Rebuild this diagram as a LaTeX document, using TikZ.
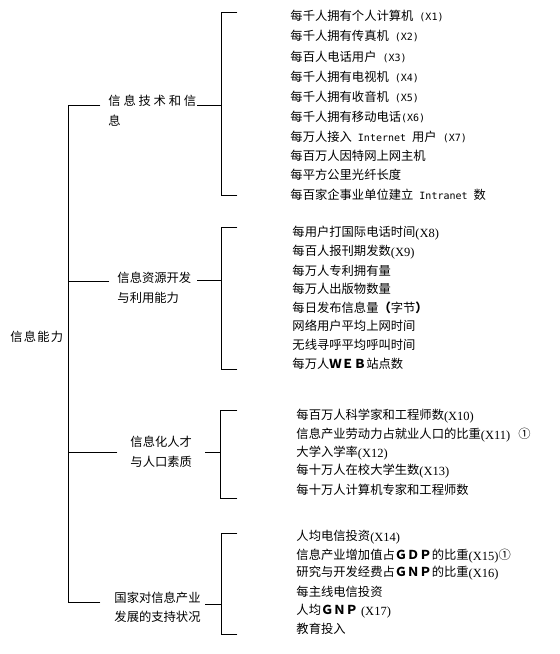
\documentclass[tikz,border=0pt]{standalone}
\usepackage{fontspec}
\setmainfont{Noto Sans CJK SC}
\newfontfamily\monox{DejaVu Sans Mono}
\newfontfamily\serifx{Liberation Serif}
\newcommand{\mx}[1]{{\monox\fontsize{10}{12}\selectfont #1}}
\newcommand{\sx}[1]{\raisebox{-1pt}{\serifx\fontsize{12.5}{14}\selectfont #1}}
\newcommand{\fw}[1]{{\bfseries #1}}
\begin{document}
\begin{tikzpicture}[x=1pt,y=-1pt,line width=0.9pt,
  item/.style={anchor=west,inner sep=0pt,font=\fontsize{12.3}{14}\selectfont},
  branch/.style={anchor=west,inner sep=0pt,align=left,font=\fontsize{12.3}{19.5}\selectfont},
  link/.style={draw=black,line cap=rect}]
\useasboundingbox (0,0) rectangle (560,654);

% labels
\node[branch] (root) at (10,337) {信\hspace{1.2pt}息\hspace{1.2pt}能\hspace{1.2pt}力};
\node[branch] (b1) at (108,110.5) {信\hspace{2.8pt}息\hspace{2.8pt}技\hspace{2.8pt}术\hspace{2.8pt}和\hspace{2.8pt}信\\息};
\node[branch] (b2) at (117,288) {信息资源开发\\与利用能力};
\node[branch] (b3) at (130,452) {信息化人才\\与人口素质};
\node[branch] (b4) at (114,607.5) {国家对信息产业\\发展的支持状况};

% coordinates
\coordinate (m1) at (68,105);
\coordinate (m2) at (68,281);
\coordinate (m3) at (68,452);
\coordinate (m4) at (68,602);
\coordinate (b1l) at (100,105);
\coordinate (b2l) at (109,281);
\coordinate (b3l) at (117,452);
\coordinate (b4l) at (100,602);
\coordinate (b1r) at (197,105);
\coordinate (b2r) at (197,280);
\coordinate (b3r) at (205,452);
\coordinate (b4r) at (205,604);
\coordinate (k1) at (221,105);
\coordinate (k2) at (221,280);
\coordinate (k3) at (220,452);
\coordinate (k4) at (221,604);
\coordinate (k1t) at (221,12);   \coordinate (k1te) at (237,12);
\coordinate (k1b) at (221,195);  \coordinate (k1be) at (237,195);
\coordinate (k2t) at (221,227);  \coordinate (k2te) at (237,227);
\coordinate (k2b) at (221,369);  \coordinate (k2be) at (237,369);
\coordinate (k3t) at (220,410);  \coordinate (k3te) at (237,410);
\coordinate (k3b) at (220,498);  \coordinate (k3be) at (237,498);
\coordinate (k4t) at (221,533);  \coordinate (k4te) at (237,533);
\coordinate (k4b) at (221,634);  \coordinate (k4be) at (237,634);

% connectors
\draw[link] (m1) -- (m4);
\draw[link] (m1) -- (b1l);
\draw[link] (m2) -- (b2l);
\draw[link] (m3) -- (b3l);
\draw[link] (m4) -- (b4l);
\draw[link] (b1r) -- (k1);
\draw[link] (b2r) -- (k2);
\draw[link] (b3r) -- (k3);
\draw[link] (b4r) -- (k4);
\draw[link] (k1te) -- (k1t) -- (k1b) -- (k1be);
\draw[link] (k2te) -- (k2t) -- (k2b) -- (k2be);
\draw[link] (k3te) -- (k3t) -- (k3b) -- (k3be);
\draw[link] (k4te) -- (k4t) -- (k4b) -- (k4be);

% list 1
\node[item] (a1) at (290,16) {每千人拥有个人计算机\mx{ (X1)}};
\node[item] (a2) at (290,36) {每千人拥有传真机\mx{ (X2)}};
\node[item] (a3) at (290,56.5) {每百人电话用户\mx{ (X3)}};
\node[item] (a4) at (290,76.5) {每千人拥有电视机\mx{ (X4)}};
\node[item] (a5) at (290,96.5) {每千人拥有收音机\mx{ (X5)}};
\node[item] (a6) at (290,116.5) {每千人拥有移动电话\mx{(X6)}};
\node[item] (a7) at (290,136.5) {每万人接入\mx{ Internet }用户\mx{ (X7)}};
\node[item] (a8) at (290,155.5) {每百万人因特网上网主机};
\node[item] (a9) at (290,175) {每平方公里光纤长度};
\node[item] (a10) at (290,195) {每百家企事业单位建立\mx{ Intranet }数};

% list 2
\node[item] (c1) at (292,233) {每用户打国际电话时间\sx{(X8)}};
\node[item] (c2) at (292,252.5) {每百人报刊期发数\sx{(X9)}};
\node[item] (c3) at (292,270.5) {每万人专利拥有量};
\node[item] (c4) at (292,289) {每万人出版物数量};
\node[item] (c5) at (292,307.5) {每日发布信息量\fw{（}字节\fw{）}};
\node[item] (c6) at (292,326) {网络用户平均上网时间};
\node[item] (c7) at (292,345) {无线寻呼平均呼叫时间};
\node[item] (c8) at (292,363.5) {每万人\fw{ＷＥＢ}站点数};

% list 3
\node[item] (d1) at (296,416) {每百万人科学家和工程师数\sx{(X10)}};
\node[item] (d2) at (296,435) {信息产业劳动力占就业人口的比重\sx{(X11)}\hspace{8pt}①};
\node[item] (d3) at (296,453) {大学入学率\sx{(X12)}};
\node[item] (d4) at (296,471) {每十万人在校大学生数\sx{(X13)}};
\node[item] (d5) at (296,489.5) {每十万人计算机专家和工程师数};

% list 4
\node[item] (e1) at (296,537) {人均电信投资\sx{(X14)}};
\node[item] (e2) at (296,556) {信息产业增加值占\fw{ＧＤＰ}的比重\sx{(X15)}①};
\node[item] (e3) at (296,573.5) {研究与开发经费占\fw{ＧＮＰ}的比重\sx{(X16)}};
\node[item] (e4) at (296,592) {每主线电信投资};
\node[item] (e5) at (296,611) {人均\fw{ＧＮＰ}\sx{ (X17)}};
\node[item] (e6) at (296,628.5) {教育投入};
\end{tikzpicture}
\end{document}
